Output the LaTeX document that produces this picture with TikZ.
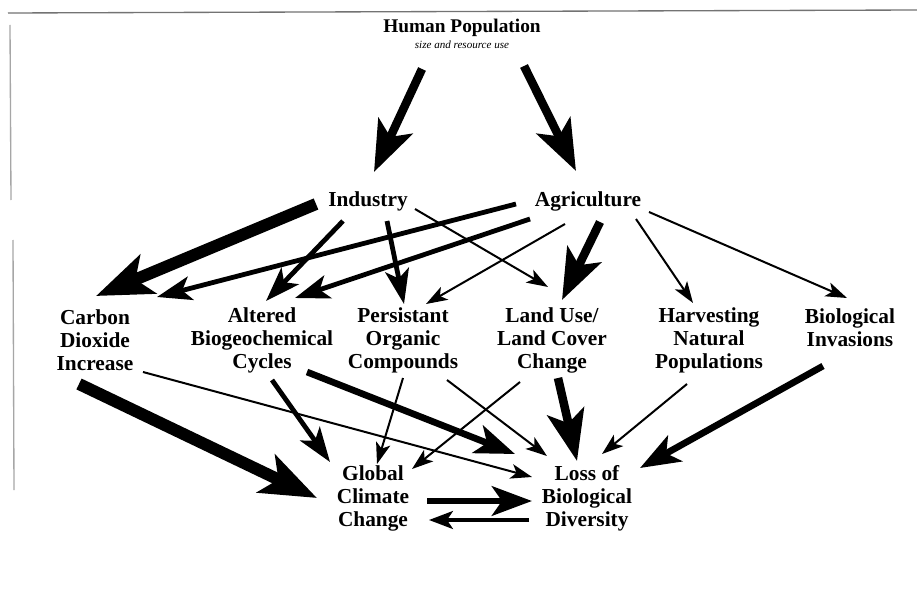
\documentclass[tikz,border=0pt]{standalone}
\usepackage{fontspec}
\setmainfont{Liberation Serif}
\usetikzlibrary{arrows.meta,calc}
\begin{document}
\begin{tikzpicture}[x=0.75pt,y=-0.75pt,
  lab/.style={font=\fontsize{16}{17.25}\selectfont\bfseries, align=center, inner sep=0pt},
  athin/.style={line width=1.5pt, -{Stealth[length=16pt,width=11pt,inset=4pt]}},
  atm/.style={line width=2.4pt, -{Stealth[length=18pt,width=13.5pt,inset=4.5pt]}},
  amed/.style={line width=3.6pt, -{Stealth[length=26pt,width=18pt,inset=6.5pt]}},
  amt/.style={line width=5pt, -{Stealth[length=30pt,width=22pt,inset=7.5pt]}},
  athick/.style={line width=6.4pt, -{Stealth[length=38pt,width=28pt,inset=9pt]}},
  avthick/.style={line width=9pt, -{Stealth[length=42pt,width=31pt,inset=10pt]}},
  scan/.style={draw=black!55, line width=1pt}
]
\fill[white] (0,0) rectangle (917,599);
\useasboundingbox (0,0) rectangle (917,599);
% scan border lines
\coordinate (t1) at (8,13);
\coordinate (t2) at (917,10);
\draw[scan] (t1) -- (t2);
\coordinate (l1) at (10,25);
\coordinate (l2) at (11,200);
\draw[scan, draw=black!35] (l1) -- (l2);
\coordinate (l3) at (13,240);
\coordinate (l4) at (14,490);
\draw[scan, draw=black!35] (l3) -- (l4);

% nodes
\node[font=\fontsize{14.5}{16}\selectfont\bfseries, inner sep=0pt] (hp) at (462,28) {Human Population};
\node[font=\fontsize{8.3}{9}\selectfont\itshape, inner sep=0pt] (sub) at (462,45) {size and resource use};
\node[lab] (ind) at (368,201) {Industry};
\node[lab] (agr) at (588,201) {Agriculture};
\node[lab] (co2) at (95,340) {Carbon\\Dioxide\\Increase};
\node[lab] (abc) at (262,340) {Altered\\Biogeochemical\\Cycles};
\node[lab] (poc) at (403,340) {Persistant\\Organic\\Compounds};
\node[lab] (luc) at (552,340) {Land Use/\\Land Cover\\Change};
\node[lab] (hnp) at (709,340) {Harvesting\\Natural\\Populations};
\node[lab] (bin) at (850,328) {Biological\\Invasions};
\node[lab] (gcc) at (373,498) {Global\\Climate\\Change};
\node[lab] (lbd) at (587,498) {Loss of\\Biological\\Diversity};

% connectors
\draw[athick] ($(hp)+(-40,41)$) -- ($(ind)+(6,-29)$);
\draw[athick] ($(hp)+(62,38)$) -- ($(agr)+(-12,-30)$);

\draw[avthick] ($(ind)+(-52,3)$) -- ($(co2)+(1,-44)$);
\draw[amed] ($(ind)+(-25,20)$) -- ($(abc)+(4,-39)$);
\draw[amed] ($(ind)+(19,20)$) -- ($(poc)+(1,-36)$);
\draw[athin] ($(ind)+(47,8)$) -- ($(luc)+(-4,-53)$);

\draw[amed] ($(agr)+(-72,3)$) -- ($(co2)+(62,-43)$);
\draw[amed] ($(agr)+(-58,18)$) -- ($(abc)+(33,-42)$);
\draw[athin] ($(agr)+(-23,23)$) -- ($(poc)+(23,-36)$);
\draw[athick] ($(agr)+(12,21)$) -- ($(luc)+(10,-40)$);
\draw[athin] ($(agr)+(48,18)$) -- ($(hnp)+(-16,-37)$);
\draw[athin] ($(agr)+(61,11)$) -- ($(bin)+(-3,-30)$);

\draw[avthick] ($(co2)+(-16,44)$) -- ($(gcc)+(-56,0)$);
\draw[athin] ($(co2)+(48,32)$) -- ($(lbd)+(-55,-21)$);
\draw[amed] ($(abc)+(10,40)$) -- ($(gcc)+(-43,-36)$);
\draw[amt] ($(abc)+(45,32)$) -- ($(lbd)+(-72,-44)$);
\draw[athin] ($(poc)+(0,38)$) -- ($(gcc)+(4,-34)$);
\draw[athin] ($(poc)+(44,40)$) -- ($(lbd)+(-40,-42)$);
\draw[athin] ($(luc)+(-32,42)$) -- ($(gcc)+(39,-29)$);
\draw[athick] ($(luc)+(6,38)$) -- ($(lbd)+(-10,-37)$);
\draw[athin] ($(hnp)+(-22,44)$) -- ($(lbd)+(15,-44)$);
\draw[amt] ($(bin)+(-27,38)$) -- ($(lbd)+(53,-30)$);

\draw[amt] ($(gcc)+(54,3)$) -- ($(lbd)+(-55,3)$);
\draw[atm] ($(lbd)+(-58,22)$) -- ($(gcc)+(56,22)$);
\end{tikzpicture}
\end{document}
